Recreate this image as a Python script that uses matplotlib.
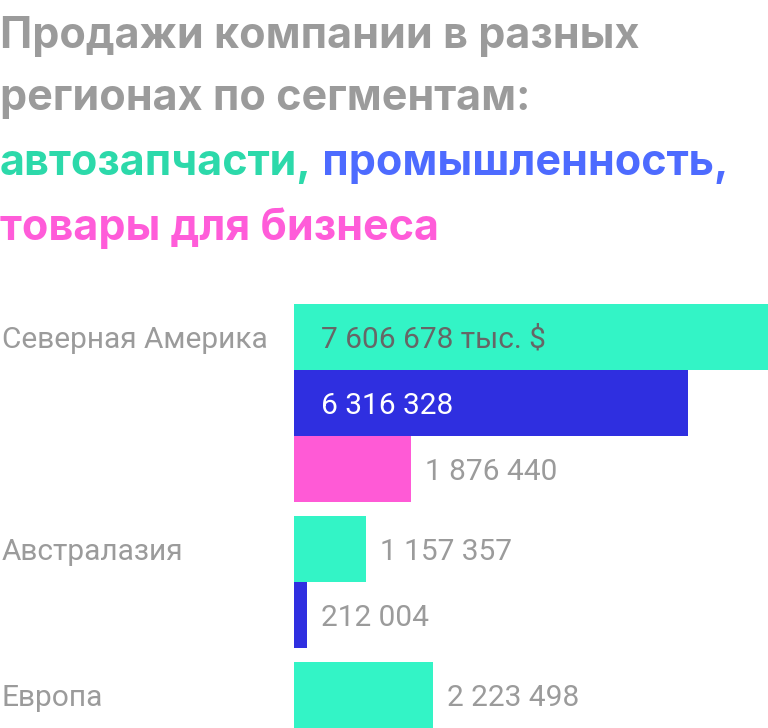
import matplotlib
matplotlib.use("Agg")
import matplotlib.pyplot as plt
from matplotlib.transforms import blended_transform_factory

plt.rcParams['font.family'] = ['Roboto', 'DejaVu Sans']

# ---- data ----
regions = ['Северная Америка', 'Австралазия', 'Европа']
segments = ['автозапчасти', 'промышленность', 'товары для бизнеса']
auto = [7606678, 1157357, 2223498]
industry = [6316328, 212004, None]
business = [1876440, None, None]
unit_suffix = ' тыс. $'

seg_colors = ['#33F4C6', '#2F2FE0', '#FF5AD6']
title_colors = ['#2CD9AA', '#4D6BFF', '#FF5CD9']
GRAY = '#9B9B9B'
DARK = '#666666'

W, H, DPI = 768, 728, 100
fig = plt.figure(figsize=(W / DPI, H / DPI), dpi=DPI)
fig.patch.set_facecolor('white')

# axes area for bars
ax_left, ax_top = 294, 304
ax = fig.add_axes([ax_left / W, 0, 1 - ax_left / W, (H - ax_top) / H])
ax.set_axis_off()

group_gap = 14 / 66
series = [auto, industry, business]
vmax = max(auto)
lfs = 21.5

y = 0.0
first_bar = True
for gi, region in enumerate(regions):
    group_start = None
    for si, vals in enumerate(series):
        v = vals[gi]
        if v is None:
            continue
        if group_start is None:
            group_start = y
        ax.barh(y + 0.5, v, height=1.0, color=seg_colors[si], linewidth=0)
        txt = f"{v:,}".replace(',', ' ')
        if first_bar:
            txt += unit_suffix
        inside = v > 0.5 * vmax
        if inside:
            col = DARK if si == 0 else 'white'
            ax.annotate(txt, xy=(0, y + 0.5), xytext=(27, -11), textcoords='offset pixels',
                        ha='left', va='baseline', fontsize=lfs, color=col)
        else:
            ax.annotate(txt, xy=(v, y + 0.5), xytext=(14, -11), textcoords='offset pixels',
                        ha='left', va='baseline', fontsize=lfs, color=GRAY)
        first_bar = False
        y += 1.0
    # region label centred on first bar of group
    tr = blended_transform_factory(fig.transFigure, ax.transData)
    ax.annotate(region, xy=(2 / W, group_start + 0.5), xycoords=tr, xytext=(0, -11),
                textcoords='offset pixels', ha='left', va='baseline', fontsize=lfs,
                color=GRAY, annotation_clip=False)
    y += group_gap

ax.set_xlim(0, vmax)
ax.set_ylim(y - group_gap, 0)

# ---- title ----
tfs = 31
tfam = ['Inter', 'DejaVu Sans']
def ftext(x, ybase, s, color):
    return fig.text(x / W, 1 - ybase / H, s, ha='left', va='baseline', fontsize=tfs,
                    fontweight='bold', color=color, family=tfam)

ftext(0, 48, 'Продажи компании в разных', GRAY)
ftext(0, 110, 'регионах по сегментам:', GRAY)
t1 = ftext(0, 175, segments[0] + ',', title_colors[0])
fig.canvas.draw()
r = fig.canvas.get_renderer()
bb = t1.get_window_extent(r)
fig.text(bb.x1 / W, 1 - 175 / H, ' ' + segments[1] + ',', ha='left', va='baseline',
         fontsize=tfs, fontweight='bold', color=title_colors[1], family=tfam)
ftext(0, 240, segments[2], title_colors[2])

fig.savefig('out.png', dpi=DPI, facecolor='white')
